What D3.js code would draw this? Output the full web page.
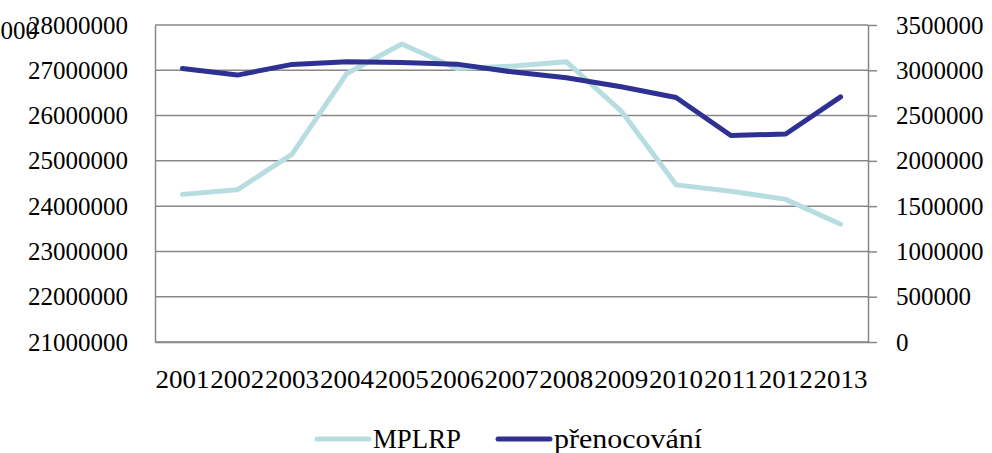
<!DOCTYPE html>
<html>
<head>
<meta charset="utf-8">
<script src="https://cdn.jsdelivr.net/npm/d3@7"></script>
<style>
  body { margin: 0; background: #fff; }
  svg text { font-family: "Liberation Serif", "DejaVu Serif", serif; fill: #000; }
</style>
</head>
<body>
<svg id="chart" width="992" height="453"></svg>
<script>
const years = ["2001","2002","2003","2004","2005","2006","2007","2008","2009","2010","2011","2012","2013"];
const mplrp = [24260000, 24360000, 25150000, 26930000, 27580000, 27040000, 27090000, 27190000, 26100000, 24470000, 24330000, 24150000, 23600000];
const prenocovani = [3020000, 2947000, 3065000, 3094000, 3087000, 3068000, 2983000, 2917000, 2818000, 2700000, 2280000, 2296000, 2707000];
const leftTicks = [21000000, 22000000, 23000000, 24000000, 25000000, 26000000, 27000000, 28000000];
const rightTicks = [0, 500000, 1000000, 1500000, 2000000, 2500000, 3000000, 3500000];

const svg = d3.select("#chart");
const plotLeft = 155, plotRight = 868, plotTop = 25, plotBottom = 342;

const x = d3.scaleBand().domain(years).range([plotLeft, plotRight]);
const yL = d3.scaleLinear().domain([21000000, 28000000]).range([plotBottom, plotTop]);
const yR = d3.scaleLinear().domain([0, 3500000]).range([plotBottom, plotTop]);

// --- gridlines ---
svg.append("g").selectAll("line")
  .data(leftTicks)
  .join("line")
  .attr("x1", plotLeft).attr("x2", plotRight)
  .attr("y1", d => yL(d)).attr("y2", d => yL(d))
  .attr("stroke", "#878787").attr("stroke-width", 1.5);

// --- left axis ---
const axL = svg.append("g").attr("transform", `translate(${plotLeft},0)`)
  .call(d3.axisLeft(yL).tickValues(leftTicks).tickSize(0).tickPadding(27).tickFormat(d3.format("d")));
axL.select(".domain").attr("stroke", "#878787").attr("stroke-width", 1.5);
axL.selectAll("text").style("font-size", "25px").attr("font-family", null);

// --- right axis ---
const axR = svg.append("g").attr("transform", `translate(${plotRight},0)`)
  .call(d3.axisRight(yR).tickValues(rightTicks).tickSize(9).tickPadding(19).tickSizeOuter(0).tickFormat(d3.format("d")));
axR.select(".domain").attr("stroke", "#878787").attr("stroke-width", 1.5);
axR.selectAll("line").attr("stroke", "#878787").attr("stroke-width", 1.5);
axR.selectAll("text").style("font-size", "25px").attr("font-family", null);

// --- bottom axis ---
const axB = svg.append("g").attr("transform", `translate(0,${plotBottom})`)
  .call(d3.axisBottom(x).tickSize(0).tickPadding(28));
axB.select(".domain").attr("stroke", "#878787").attr("stroke-width", 1.5);
axB.selectAll("text").style("font-size", "26px").attr("font-family", null)
  .attr("textLength", 54).attr("lengthAdjust", "spacingAndGlyphs");

// stray label clipped at the top-left edge, as in the source
svg.append("text").attr("x", 38).attr("y", 33).attr("text-anchor", "end")
  .attr("dominant-baseline", "middle").style("font-size", "25px").text("28000000");

// --- lines ---
const lineL = d3.line().x((d, i) => x(years[i]) + x.bandwidth() / 2).y(d => yL(d));
const lineR = d3.line().x((d, i) => x(years[i]) + x.bandwidth() / 2).y(d => yR(d));

svg.append("path").datum(mplrp).attr("d", lineL)
  .attr("fill", "none").attr("stroke", "#B7DDE0").attr("stroke-width", 5)
  .attr("stroke-linecap", "round").attr("stroke-linejoin", "round");
svg.append("path").datum(prenocovani).attr("d", lineR)
  .attr("fill", "none").attr("stroke", "#2E3192").attr("stroke-width", 5)
  .attr("stroke-linecap", "round").attr("stroke-linejoin", "round");

// --- legend ---
const legend = [
  { name: "MPLRP", color: "#B7DDE0", x: 317, w: 88 },
  { name: "přenocování", color: "#2E3192", x: 498, w: 148 }
];
const lg = svg.append("g").selectAll("g").data(legend).join("g")
  .attr("transform", d => `translate(${d.x},439)`);
lg.append("line").attr("x1", 0).attr("x2", 52)
  .attr("stroke", d => d.color).attr("stroke-width", 5).attr("stroke-linecap", "round");
lg.append("text").attr("x", 56).attr("dy", "0.33em").style("font-size", "27px")
  .attr("textLength", d => d.w).attr("lengthAdjust", "spacingAndGlyphs").text(d => d.name);
</script>
</body>
</html>
